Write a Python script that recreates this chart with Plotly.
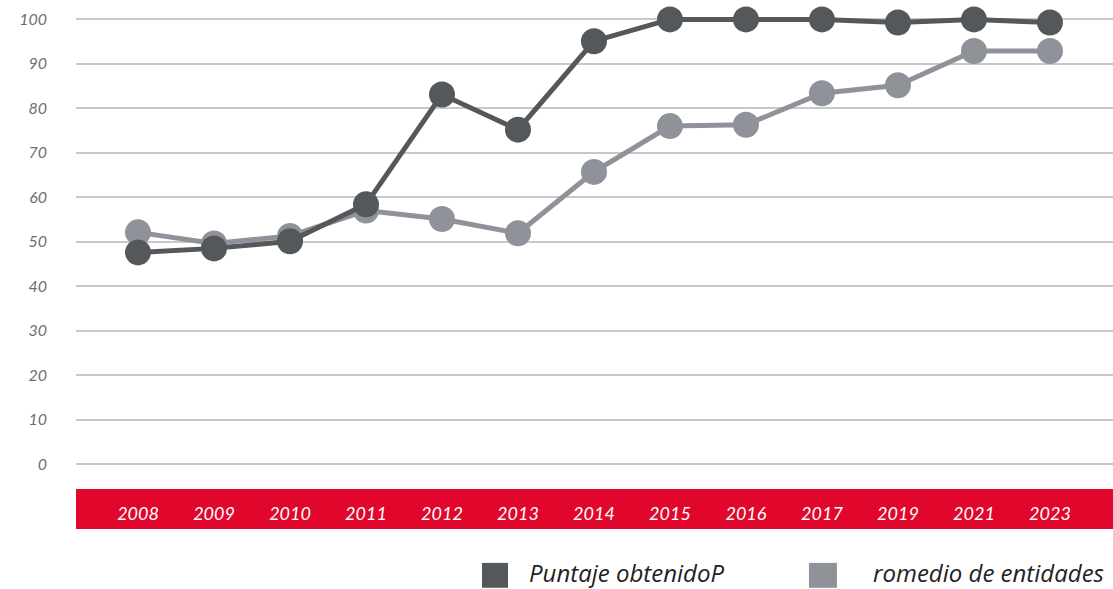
import plotly.graph_objects as go

years = ["2008", "2009", "2010", "2011", "2012", "2013", "2014",
         "2015", "2016", "2017", "2019", "2021", "2023"]
puntaje = [47.6, 48.5, 50.1, 58.4, 83.1, 75.2, 95.1,
           100.0, 100.0, 100.0, 99.3, 100.0, 99.3]
promedio = [52.1, 49.6, 51.3, 57.0, 55.1, 51.9, 65.7,
            76.0, 76.3, 83.4, 85.2, 92.9, 92.9]
series_names = ["Puntaje obtenidoP", "romedio de entidades"]
y_ticks = [0, 10, 20, 30, 40, 50, 60, 70, 80, 90, 100]

DARK = "#54585b"
LIGHT = "#8f9399"
RED = "#e1062b"
FONT = "Lato, Open Sans, sans-serif"
LEGEND_FONT = "Open Sans, sans-serif"

fig = go.Figure()

for vals, color, name in [(promedio, LIGHT, series_names[1]), (puntaje, DARK, series_names[0])]:
    fig.add_trace(
        go.Scatter(
            x=years,
            y=vals,
            mode="lines+markers",
            name=name,
            line=dict(color=color, width=5),
            marker=dict(color=color, size=26),
            showlegend=False,
            cliponaxis=False,
        )
    )

# red band under the plot + hand drawn legend (big squares)
shapes = [
    dict(type="rect", xref="paper", yref="paper", x0=0, x1=1.01, y0=-0.0298, y1=-0.1149,
         fillcolor=RED, line=dict(width=0), layer="below"),
    dict(type="rect", xref="paper", yref="paper", x0=0.3915, x1=0.4166, y0=-0.187, y1=-0.240,
         fillcolor=DARK, line=dict(width=0)),
    dict(type="rect", xref="paper", yref="paper", x0=0.7068, x1=0.7338, y0=-0.187, y1=-0.240,
         fillcolor=LIGHT, line=dict(width=0)),
]
annotations = [
    dict(text=series_names[0], xref="paper", yref="paper", x=0.4348, y=-0.2064,
         xanchor="left", yanchor="middle", showarrow=False,
         font=dict(family=LEGEND_FONT, size=24, color="#222222", style="italic")),
    dict(text=series_names[1], xref="paper", yref="paper", x=0.7666, y=-0.2064,
         xanchor="left", yanchor="middle", showarrow=False,
         font=dict(family=LEGEND_FONT, size=24, color="#222222", style="italic")),
]

fig.update_layout(
    width=1113,
    height=589,
    margin=dict(l=76, r=0, t=5, b=114),
    paper_bgcolor="white",
    plot_bgcolor="white",
    shapes=shapes,
    annotations=annotations,
    xaxis=dict(
        type="category",
        range=[-0.816, 12.83],
        showgrid=False,
        zeroline=False,
        showline=False,
        ticklabelstandoff=26,
        tickfont=dict(family=FONT, size=18, color="white", style="italic"),
    ),
    yaxis=dict(
        range=[-2.47, 103.24],
        tickvals=y_ticks,
        gridcolor="#c6c8ca",
        gridwidth=1.5,
        zeroline=False,
        showline=False,
        ticklabelstandoff=28,
        tickfont=dict(family=FONT, size=16, color="#6e6e6e", style="italic"),
    ),
)

fig.write_html(
    "out.html",
    config={"displayModeBar": False},
    post_script="document.body.style.margin='0';",
)
